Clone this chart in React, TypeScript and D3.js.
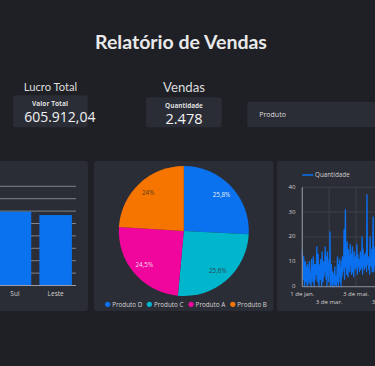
import React from "react";
import * as d3 from "d3";

const regions = ["Norte", "Oeste", "Sul", "Leste"];
const regionProfit = [160412.04, 154600, 148800, 142100];
const barTicks = [0, 25000, 50000, 75000, 100000, 125000, 150000, 175000, 200000];

const products = ["Produto D", "Produto C", "Produto A", "Produto B"];
const productShare = [25.8, 25.6, 24.5, 24.0];
const productLabels = ["25,8%", "25,6%", "24,5%", "24%"];
const productColors = ["#0a72ee", "#00b6cc", "#f0069c", "#f57500"];
const productLabelColors = ["#e8eef8", "#2e4450", "#f6dcec", "#5a3a1a"];

const dailyQty = [
  15, 7, 3, 12, 9, 0, 6, 10, 2, 8,
  4, 0, 9, 3, 7, 1, 10, 6, 2, 5,
  0, 11, 4, 8, 2, 12, 6, 0, 9, 3,
  7, 9, 5, 16, 2, 8, 13, 4, 0, 6,
  9, 3, 11, 5, 0, 14, 7, 2, 10, 4,
  6, 9, 16, 8, 3, 12, 0, 14, 5, 9,
  2, 11, 7, 22, 0, 4, 9, 3, 0, 6,
  2, 5, 0, 3, 8, 1, 4, 0, 2, 6,
  12, 3, 0, 9, 5, 11, 2, 7, 0, 10,
  4, 12, 6, 8, 9, 23, 3, 11, 31, 8,
  14, 5, 18, 10, 4, 15, 7, 12, 6, 17,
  9, 13, 5, 11, 16, 6, 10, 4, 14, 8,
  12, 7, 9, 11, 17, 5, 13, 8, 11, 10,
  6, 10, 14, 7, 11, 8, 20, 5, 15, 9,
  11, 7, 13, 8, 10, 14, 6, 37, 9, 12,
  12, 7, 11, 5, 20, 9, 13, 8, 15, 6,
  15, 28, 6, 12, 9, 16, 7, 11, 9, 14,
];
const qtyTicks = [0, 10, 20, 30, 40];
const dateTicks = ["2023-01-01", "2023-03-03", "2023-05-03", "2023-07-03"];
const dateTickLabels = ["1 de jan.", "3 de mar.", "3 de mai.", "3 de jul."];

const BG = "#1f2026";
const PANEL = "#2b2d36";
const FONT = "'Open Sans', 'Noto Sans', sans-serif";
const TITLE_FONT = "Lato, 'Open Sans', sans-serif";

export default function App() {
  // Bar chart
  const xBand = d3.scaleBand<string>().domain(regions).range([-86.8, 76]).paddingInner(0.2).paddingOuter(0.1);
  const yBar = d3.scaleLinear().domain([0, 200000]).range([285.5, 186.3]);

  // Pie
  const pie = d3.pie<number>().sort(null).value((d) => d)(productShare);
  const R = 65;
  const arc = d3.arc<d3.PieArcDatum<number>>().innerRadius(0).outerRadius(R);
  const labelArc = d3.arc<d3.PieArcDatum<number>>().innerRadius(R * 0.8).outerRadius(R * 0.8);
  const pcx = 183.8, pcy = 231;

  // Line
  const start = new Date(2023, 0, 1);
  const end = new Date(2023, 11, 31);
  const xTime = d3.scaleTime().domain([start, end]).range([302.3, 302.3 + 364 * 0.44]);
  const yQty = d3.scaleLinear().domain([0, 40]).range([286.7, 187.2]);
  const lineData = dailyQty.map((v, i) => ({ d: d3.timeDay.offset(start, i), v }));
  const line = d3.line<{ d: Date; v: number }>().x((p) => xTime(p.d)).y((p) => yQty(p.v));
  const parse = d3.timeParse("%Y-%m-%d");

  return (
    <div style={{ position: "fixed", left: 0, top: 0, width: 375, height: 366, background: BG }}>
      <svg width={375} height={366} style={{ display: "block" }}>
        <rect x={0} y={0} width={375} height={366} fill={BG} />
        <text x={181} y={48.5} textAnchor="middle" fill="#e9e9ea" fontFamily={TITLE_FONT} fontWeight={700} fontSize={19.5}>
          Relatório de Vendas
        </text>

        {/* KPI 1 */}
        <text x={50.5} y={90.5} textAnchor="middle" fill="#dcdcdc" fontFamily={TITLE_FONT} fontSize={11.2}>Lucro Total</text>
        <rect x={13.3} y={95.3} width={74.4} height={32} rx={2} fill={PANEL} />
        <text x={50} y={105.6} textAnchor="middle" fill="#dedede" fontFamily={FONT} fontWeight={700} fontSize={6.6}>Valor Total</text>
        <text x={59.8} y={122} textAnchor="middle" fill="#f2f2f2" fontFamily={FONT} fontSize={14}>605.912,04</text>

        {/* KPI 2 */}
        <text x={184} y={92.3} textAnchor="middle" fill="#dcdcdc" fontFamily={TITLE_FONT} fontSize={13.2}>Vendas</text>
        <rect x={146} y={97.3} width={75.7} height={30} rx={2} fill={PANEL} />
        <text x={184} y={108.3} textAnchor="middle" fill="#dedede" fontFamily={FONT} fontWeight={700} fontSize={6.4}>Quantidade</text>
        <text x={184} y={124.2} textAnchor="middle" fill="#f2f2f2" fontFamily={FONT} fontSize={14.5}>2.478</text>

        {/* KPI 3 */}
        <rect x={247.3} y={102} width={140} height={25} rx={2} fill={PANEL} />
        <text x={259.3} y={116.8} fill="#dedede" fontFamily={FONT} fontSize={7}>Produto</text>

        {/* Bar panel */}
        <rect x={-20} y={161} width={108} height={150} rx={3} fill={PANEL} />
        {barTicks.map((t) => (
          <line key={t} x1={-90} x2={76} y1={yBar(t)} y2={yBar(t)} stroke="#80838c" strokeWidth={1} />
        ))}
        {regions.map((r, i) => (
          <rect key={r} x={xBand(r)} y={yBar(regionProfit[i])} width={xBand.bandwidth()} height={yBar(0) - yBar(regionProfit[i])} fill="#0a72ee" />
        ))}
        <line x1={-90} x2={76} y1={yBar(0)} y2={yBar(0)} stroke="#9a9da5" strokeWidth={1} />
        {regions
          .filter((r) => (xBand(r) as number) + xBand.bandwidth() / 2 > 8)
          .map((r) => (
            <text key={r} x={(xBand(r) as number) + xBand.bandwidth() / 2} y={295.5} textAnchor="middle" fill="#d0d0d0" fontFamily={FONT} fontSize={6.5}>
              {r}
            </text>
          ))}

        {/* Pie panel */}
        <rect x={94} y={161} width={179.5} height={150} rx={3} fill={PANEL} />
        <g transform={`translate(${pcx},${pcy})`}>
          {pie.map((s, i) => (
            <path key={i} d={arc(s) as string} fill={productColors[i]} />
          ))}
          {pie.map((s, i) => {
            const [lx, ly] = labelArc.centroid(s);
            return (
              <text key={i} x={lx} y={ly + 2.2} textAnchor="middle" fill={productLabelColors[i]} fontFamily={FONT} fontSize={6.3}>
                {productLabels[i]}
              </text>
            );
          })}
        </g>
        {products.map((p, i) => (
          <g key={p} transform={`translate(${107.7 + i * 41.7},304.3)`}>
            <circle r={2.6} fill={productColors[i]} />
            <text x={4.5} y={2.2} fill="#d4d4d4" fontFamily={FONT} fontSize={6.3}>{p}</text>
          </g>
        ))}

        {/* Line panel */}
        <rect x={276.7} y={161} width={120} height={150} rx={3} fill={PANEL} />
        {qtyTicks.map((t) => (
          <g key={t}>
            <line x1={302.3} x2={380} y1={yQty(t)} y2={yQty(t)} stroke="#3d404b" strokeWidth={1} />
            <text x={295.5} y={yQty(t) + 1.5} textAnchor="end" fill="#cfcfcf" fontFamily={FONT} fontSize={6.1}>{t}</text>
          </g>
        ))}
        {dateTicks.map((d, i) => {
          const x = xTime(parse(d) as Date);
          return (
            <g key={d}>
              {i > 0 && <line x1={x} x2={x} y1={yQty(40)} y2={yQty(0)} stroke="#3d404b" strokeWidth={1} />}
              <text x={x} y={i % 2 === 0 ? 295.5 : 304} textAnchor="middle" fill="#d0d0d0" fontFamily={FONT} fontSize={6.1}>
                {dateTickLabels[i]}
              </text>
            </g>
          );
        })}
        <path d={line(lineData) as string} fill="none" stroke="#0a70f0" strokeWidth={1.3} strokeLinejoin="round" />
        <line x1={302.3} x2={302.3} y1={yQty(40)} y2={yQty(0)} stroke="#8a8d95" strokeWidth={1.2} />
        <line x1={302.3} x2={380} y1={yQty(0)} y2={yQty(0)} stroke="#8a8d95" strokeWidth={1} />
        <line x1={302.3} x2={313.3} y1={175} y2={175} stroke="#0a70f0" strokeWidth={1.5} />
        <text x={315} y={177.2} fill="#d0d0d0" fontFamily={FONT} fontSize={6.3}>Quantidade</text>
      </svg>
    </div>
  );
}
